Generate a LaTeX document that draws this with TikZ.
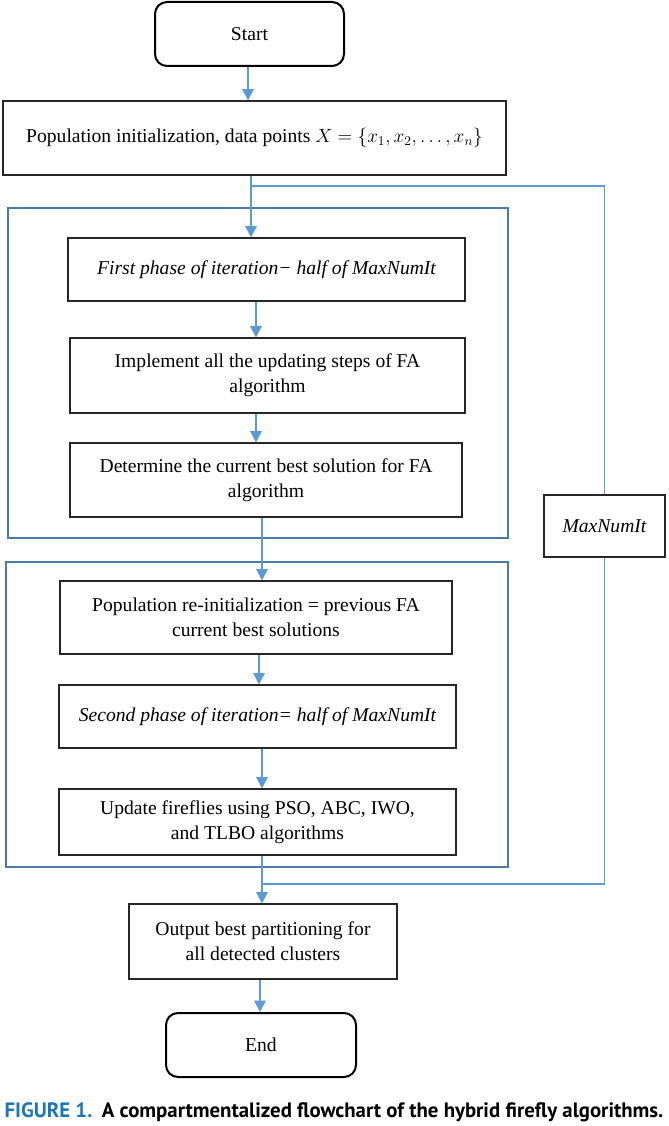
\documentclass[tikz,border=0pt]{standalone}
\usepackage{fontspec}
\setmainfont{Liberation Serif}
\newfontfamily\capfont{PT Sans}
\usetikzlibrary{arrows.meta}

\begin{document}
\begin{tikzpicture}[x=0.75pt,y=-0.75pt,
  font=\fontsize{14.7}{18.75}\selectfont,
  procbox/.style 2 args={draw=black!85,line width=0.8pt,align=center,inner sep=0pt,
    minimum width=#1*0.75pt,minimum height=#2*0.75pt},
  termbox/.style 2 args={procbox={#1}{#2},draw=black,line width=1.5pt,rounded corners=9pt},
  phaseframe/.style={draw=frameblue,line width=1.8pt},
  flow/.style={draw=flowblue,line width=1.5pt,-{Triangle[width=8.5pt,length=8.5pt]}},
  loopline/.style={draw=flowblue,line width=0.8pt}]
\definecolor{flowblue}{HTML}{5B9BD5}
\definecolor{frameblue}{HTML}{4A78A8}
\definecolor{figblue}{HTML}{1B75BC}
\useasboundingbox (0,0) rectangle (668,1126);

% the two compartments
\draw[phaseframe] (8,208) rectangle (508,538);
\draw[phaseframe] (6,562) rectangle (508,867);

\node[termbox={189}{64}] (start) at (249.5,34) {Start};
\node[procbox={503}{74}] (init) at (254.5,138)
  {\raisebox{-4pt}{Population initialization, data points $X=\{x_1,x_2,\dots,x_n\}$}};
\node[procbox={397}{63}] (first) at (266.5,269.5)
  {\itshape First phase of iteration− half of MaxNumIt};
\node[procbox={395}{75}] (impl) at (267.5,375.5)
  {Implement all the updating steps of FA\\algorithm};
\node[procbox={392}{74}] (best) at (266,480)
  {Determine the current best solution for FA\\algorithm};
\node[procbox={392}{73}] (reinit) at (256,617.5)
  {Population re-initialization = previous FA\\current best solutions};
\node[procbox={397}{63}] (second) at (257.5,716.5)
  {\itshape Second phase of iteration= half of MaxNumIt};
\node[procbox={397}{66}] (update) at (257.5,822)
  {Update fireflies using PSO, ABC, IWO,\\and TLBO algorithms};
\node[procbox={268}{75}] (output) at (263,941.5)
  {Output best partitioning for\\all detected clusters};
\node[termbox={190}{64}] (finish) at (261,1045) {End};
\node[procbox={121}{62}] (maxit) at (604.5,526) {\itshape MaxNumIt};

% columns of the arrows
\coordinate (c0) at (248,0);
\coordinate (c1) at (256,0);
\coordinate (c2) at (262,0);
\coordinate (c3) at (259,0);
\coordinate (c4) at (260,0);
\coordinate (fork) at (251,186);
\coordinate (merge) at (262,884);

\draw[flow] (start.south -| c0) -- (init.north -| c0);
\draw[flow] (init.south -| fork) -- (first.north -| fork);
\foreach \from/\to/\col in {first/impl/c1,impl/best/c1,best/reinit/c2,
  reinit/second/c3,second/update/c2,update/output/c2,output/finish/c4}
  {\draw[flow] (\from.south -| \col) -- (\to.north -| \col);}

% loop back over the iterations
\draw[loopline] (fork) -| (maxit.north);
\draw[loopline] (maxit.south) |- (merge);

\node[font=\capfont\bfseries\fontsize{15.6}{18}\selectfont] (caption) at (334,1112)
  {\textcolor{figblue}{FIGURE 1.}\hspace{0.45em}A compartmentalized flowchart of the hybrid firefly algorithms.};
\end{tikzpicture}
\end{document}
